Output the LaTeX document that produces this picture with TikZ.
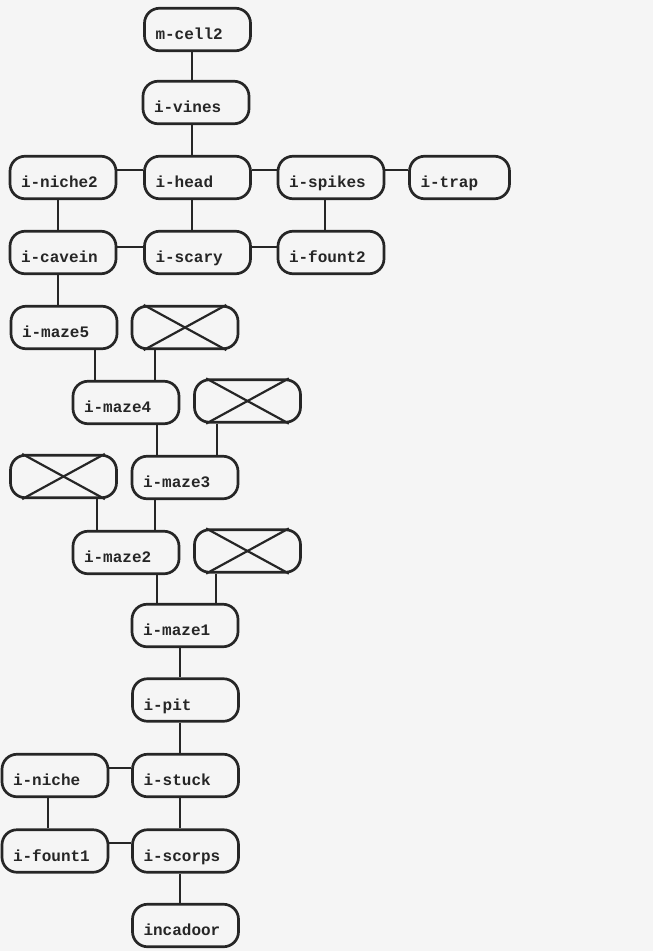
\documentclass[tikz,border=0pt]{standalone}
\usepackage{fontspec}
\setmonofont{Liberation Mono}
\definecolor{ink}{HTML}{262626}
\definecolor{paper}{HTML}{F5F5F5}
\begin{document}
\begin{tikzpicture}[x=1pt,y=-1pt,
  box/.style={draw=ink, line width=2.7pt, rounded corners=15pt, minimum height=42.5pt,
    inner xsep=11pt, inner ysep=0pt, text width=84pt, align=left, text=ink,
    text height=20pt, text depth=0pt,
    font=\ttfamily\bfseries\fontsize{16}{16}\selectfont},
  narrow/.style={text width=78pt},
  xbox/.style={box},
  link/.style={draw=ink, line width=2.2pt},
  cross/.style={draw=ink, line width=2.2pt}]
\fill[paper] (0,0) rectangle (653,951);
\useasboundingbox (0,0) rectangle (653,951);

% nodes
\node[box] (mcell) at (197.5,29.5) {m-cell2};
\node[box] (vines) at (196,102.5) {i-vines};
\node[box] (niche2) at (63,177.5) {i-niche2};
\node[box] (head) at (197.5,177.5) {i-head};
\node[box] (spikes) at (331,177.5) {i-spikes};
\node[box,narrow] (trap) at (459.5,177.5) {i-trap};
\node[box] (cavein) at (63,252.5) {i-cavein};
\node[box] (scary) at (197.5,252.5) {i-scary};
\node[box] (fount2) at (331,252.5) {i-fount2};
\node[box] (maze5) at (64,327.5) {i-maze5};
\node[xbox] (xa) at (185,327.5) {};
\node[box] (maze4) at (126,402.5) {i-maze4};
\node[xbox] (xb) at (247.5,401) {};
\node[xbox] (xc) at (63.5,476.5) {};
\node[box] (maze3) at (185,477.5) {i-maze3};
\node[box] (maze2) at (126,552.5) {i-maze2};
\node[xbox] (xd) at (247.5,551) {};
\node[box] (maze1) at (185,625.5) {i-maze1};
\node[box] (pit) at (185.5,700) {i-pit};
\node[box] (stuck) at (185.5,775.5) {i-stuck};
\node[box] (niche) at (55,775.5) {i-niche};
\node[box] (fount1) at (55,851) {i-fount1};
\node[box] (scorps) at (185.5,851) {i-scorps};
\node[box] (incadoor) at (185.5,925.5) {incadoor};

% crosses
\foreach \n in {xa,xb,xc,xd}{
  \draw[cross] ([xshift=13pt]\n.north west) -- ([xshift=-13pt]\n.south east);
  \draw[cross] ([xshift=-13pt]\n.north east) -- ([xshift=13pt]\n.south west);
}

% vertical links
\draw[link] (mcell.south -| 192,0) -- (vines.north -| 192,0);
\draw[link] (vines.south -| 192,0) -- (head.north -| 192,0);
\draw[link] (head.south -| 192,0) -- (scary.north -| 192,0);
\draw[link] (niche2.south -| 58,0) -- (cavein.north -| 58,0);
\draw[link] (spikes.south -| 325,0) -- (fount2.north -| 325,0);
\draw[link] (cavein.south -| 58,0) -- (maze5.north -| 58,0);
\draw[link] (maze5.south -| 95,0) -- (maze4.north -| 95,0);
\draw[link] (xa.south -| 155,0) -- (maze4.north -| 155,0);
\draw[link] (maze4.south -| 157,0) -- (maze3.north -| 157,0);
\draw[link] (xb.south -| 217,0) -- (maze3.north -| 217,0);
\draw[link] (xc.south -| 97,0) -- (maze2.north -| 97,0);
\draw[link] (maze3.south -| 155,0) -- (maze2.north -| 155,0);
\draw[link] (maze2.south -| 157,0) -- (maze1.north -| 157,0);
\draw[link] (xd.south -| 216,0) -- (maze1.north -| 216,0);
\draw[link] (maze1.south -| 180,0) -- (pit.north -| 180,0);
\draw[link] (pit.south -| 180,0) -- (stuck.north -| 180,0);
\draw[link] (niche.south -| 48,0) -- (fount1.north -| 48,0);
\draw[link] (stuck.south -| 180,0) -- (scorps.north -| 180,0);
\draw[link] (scorps.south -| 180,0) -- (incadoor.north -| 180,0);

% horizontal links
\draw[link] (niche2.east |- 0,170) -- (head.west |- 0,170);
\draw[link] (head.east |- 0,170) -- (spikes.west |- 0,170);
\draw[link] (spikes.east |- 0,170) -- (trap.west |- 0,170);
\draw[link] (cavein.east |- 0,247) -- (scary.west |- 0,247);
\draw[link] (scary.east |- 0,247) -- (fount2.west |- 0,247);
\draw[link] (niche.east |- 0,768) -- (stuck.west |- 0,768);
\draw[link] (fount1.east |- 0,843) -- (scorps.west |- 0,843);
\end{tikzpicture}
\end{document}
